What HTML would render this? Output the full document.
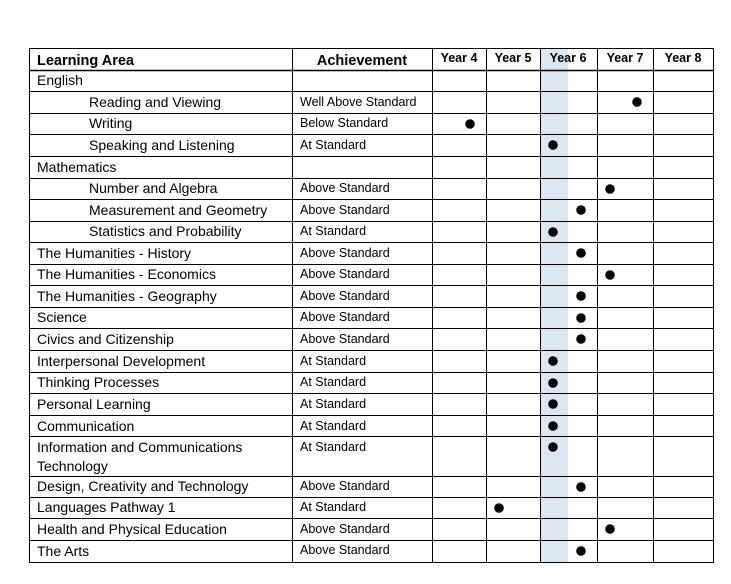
<!DOCTYPE html>
<html><head><meta charset="utf-8"><style>
body{margin:0;background:#fff;}
svg{display:block;font-family:"Liberation Sans",sans-serif;}
</style></head><body>
<svg width="731" height="584" xmlns="http://www.w3.org/2000/svg">
<rect x="540" y="48" width="28" height="514" fill="#dce6f1"/>
<g stroke="#000" stroke-width="1" fill="none">
<path d="M29 48.5H714M29 91.5H714M29 113.5H714M29 134.5H714M29 156.5H714M29 178.5H714M29 199.5H714M29 221.5H714M29 242.5H714M29 264.5H714M29 285.5H714M29 307.5H714M29 328.5H714M29 350.5H714M29 372.5H714M29 393.5H714M29 415.5H714M29 436.5H714M29 476.5H714M29 497.5H714M29 518.5H714M29 540.5H714M29 562.5H714"/>
<path d="M29 70.5H714" stroke-width="1.5"/>
<path d="M29.5 48V563M292.5 48V563M432.5 48V563M486.5 48V563M540.5 48V563M597.5 48V563M653.5 48V563M713.5 48V563"/>
</g>
<g font-size="14" fill="#000">
<text x="37" y="65" font-size="14.5" font-weight="bold">Learning Area</text>
<text x="362" y="65" font-size="14.5" font-weight="bold" text-anchor="middle">Achievement</text>
<g font-size="12.5" font-weight="bold" text-anchor="middle">
<text x="459" y="62">Year 4</text><text x="513" y="62">Year 5</text><text x="568" y="62">Year 6</text><text x="625" y="62">Year 7</text><text x="683" y="62">Year 8</text>
</g>
<text x="37" y="85">English</text>
<text x="89" y="107">Reading and Viewing</text>
<text x="89" y="128">Writing</text>
<text x="89" y="150">Speaking and Listening</text>
<text x="37" y="172">Mathematics</text>
<text x="89" y="193">Number and Algebra</text>
<text x="89" y="215">Measurement and Geometry</text>
<text x="89" y="236">Statistics and Probability</text>
<text x="37" y="258">The Humanities - History</text>
<text x="37" y="279">The Humanities - Economics</text>
<text x="37" y="301">The Humanities - Geography</text>
<text x="37" y="322">Science</text>
<text x="37" y="344">Civics and Citizenship</text>
<text x="37" y="366">Interpersonal Development</text>
<text x="37" y="387">Thinking Processes</text>
<text x="37" y="409">Personal Learning</text>
<text x="37" y="431">Communication</text>
<text x="37" y="452">Information and Communications</text>
<text x="37" y="471">Technology</text>
<text x="37" y="491">Design, Creativity and Technology</text>
<text x="37" y="512">Languages Pathway 1</text>
<text x="37" y="534">Health and Physical Education</text>
<text x="37" y="556">The Arts</text>
<g font-size="12.5">
<text x="300" y="106">Well Above Standard</text>
<text x="300" y="127">Below Standard</text>
<text x="300" y="149">At Standard</text>
<text x="300" y="192">Above Standard</text>
<text x="300" y="214">Above Standard</text>
<text x="300" y="235">At Standard</text>
<text x="300" y="257">Above Standard</text>
<text x="300" y="278">Above Standard</text>
<text x="300" y="300">Above Standard</text>
<text x="300" y="321">Above Standard</text>
<text x="300" y="343">Above Standard</text>
<text x="300" y="365">At Standard</text>
<text x="300" y="386">At Standard</text>
<text x="300" y="408">At Standard</text>
<text x="300" y="430">At Standard</text>
<text x="300" y="451">At Standard</text>
<text x="300" y="490">Above Standard</text>
<text x="300" y="511">At Standard</text>
<text x="300" y="533">Above Standard</text>
<text x="300" y="554">Above Standard</text>
</g>
</g>
<g fill="#000">
<circle cx="637" cy="102" r="4.8"/>
<circle cx="470" cy="124" r="4.8"/>
<circle cx="553" cy="145" r="4.8"/>
<circle cx="610" cy="189" r="4.8"/>
<circle cx="581" cy="210" r="4.8"/>
<circle cx="553" cy="232" r="4.8"/>
<circle cx="581" cy="253" r="4.8"/>
<circle cx="610" cy="275" r="4.8"/>
<circle cx="581" cy="296" r="4.8"/>
<circle cx="581" cy="318" r="4.8"/>
<circle cx="581" cy="339" r="4.8"/>
<circle cx="553" cy="361" r="4.8"/>
<circle cx="553" cy="383" r="4.8"/>
<circle cx="553" cy="404" r="4.8"/>
<circle cx="553" cy="426" r="4.8"/>
<circle cx="553" cy="447" r="4.8"/>
<circle cx="581" cy="487" r="4.8"/>
<circle cx="499" cy="508" r="4.8"/>
<circle cx="610" cy="529" r="4.8"/>
<circle cx="581" cy="551" r="4.8"/>
</g>
</svg>
</body></html>
